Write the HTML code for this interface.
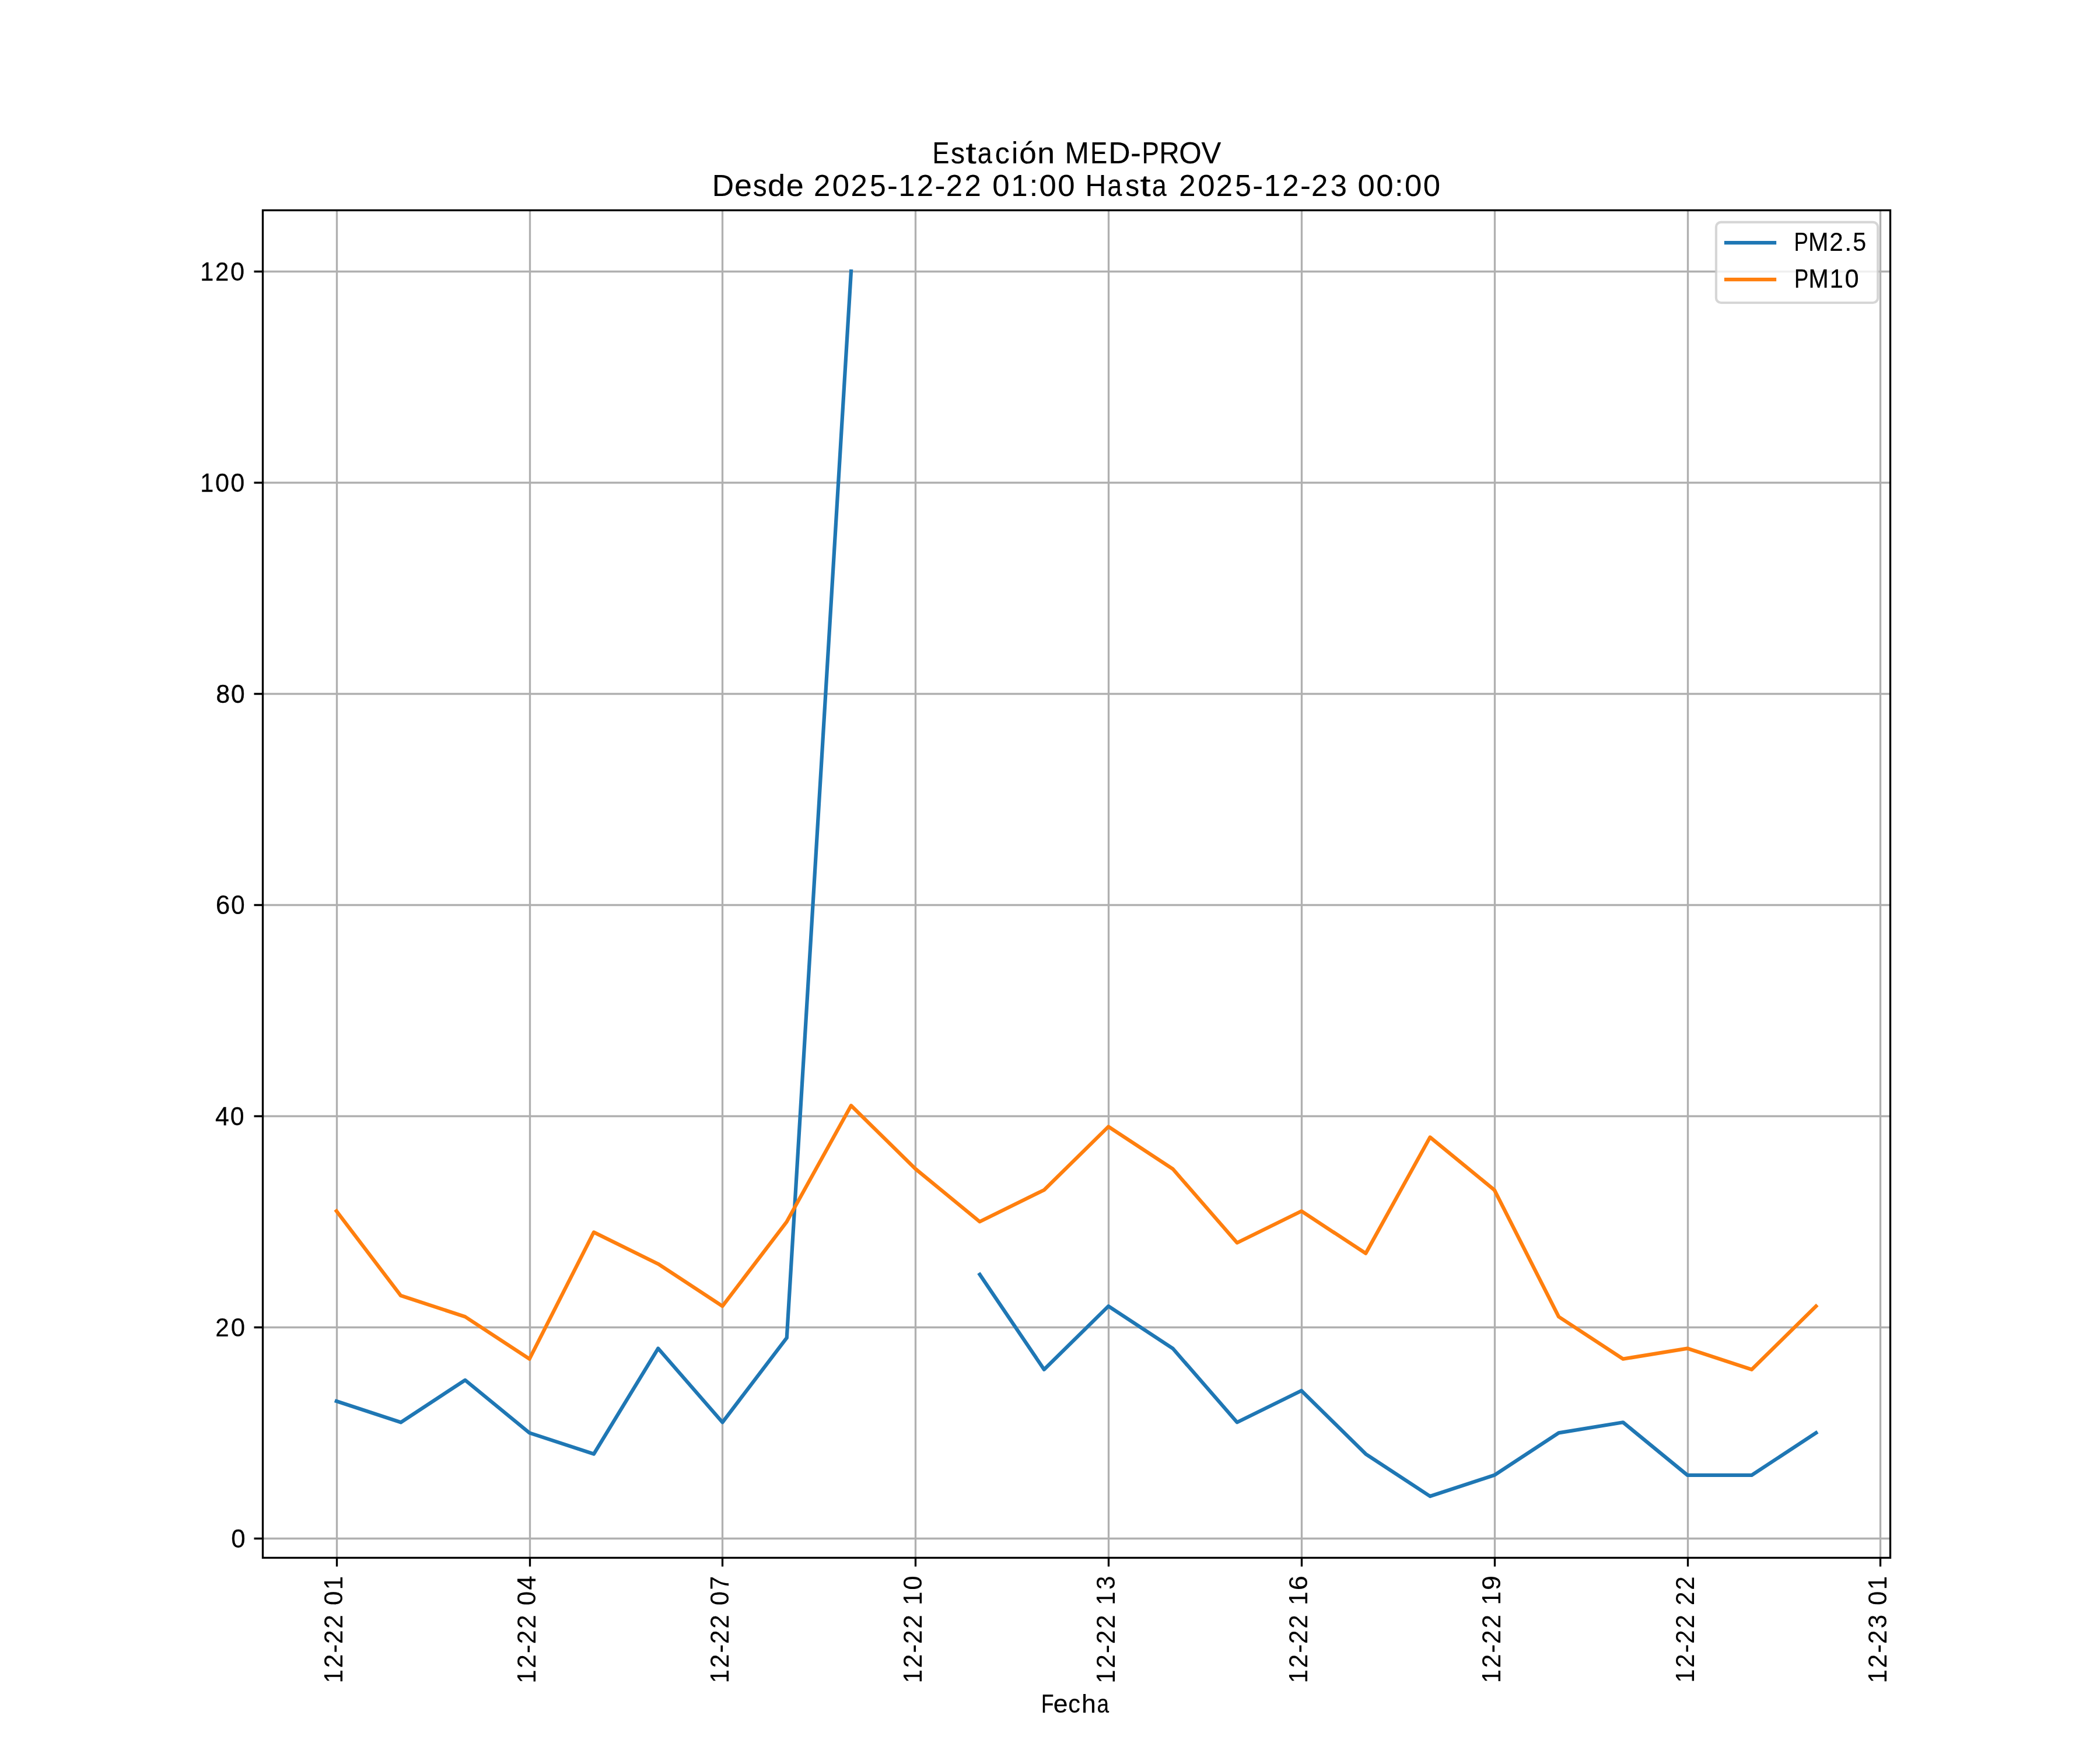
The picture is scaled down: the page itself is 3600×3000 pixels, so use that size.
<!DOCTYPE html><html><head><meta charset="utf-8"><title>Estación MED-PROV</title><style>html,body{margin:0;padding:0;background:#fff;}svg{display:block;will-change:transform;}text{font-family:"Liberation Sans",sans-serif;fill:#000;}</style></head><body>
<svg width="3600" height="3000" viewBox="0 0 3600 3000">
<rect x="0" y="0" width="3600" height="3000" fill="#fff"/>
<defs><clipPath id="ax"><rect x="450" y="360" width="2790" height="2310"/></clipPath></defs>
<path clip-path="url(#ax)" d="M577.5 360V2670M908.5 360V2670M1238.5 360V2670M1569.5 360V2670M1900.5 360V2670M2231.5 360V2670M2562.5 360V2670M2893.5 360V2670M3223.5 360V2670M450 2637.5H3240M450 2275.5H3240M450 1913.5H3240M450 1551.5H3240M450 1189.5H3240M450 827.5H3240M450 465.5H3240" fill="none" stroke="#b0b0b0" stroke-width="3.3333" stroke-linecap="square"/>
<path d="M577.5 2670.5V2685.5M908.5 2670.5V2685.5M1238.5 2670.5V2685.5M1569.5 2670.5V2685.5M1900.5 2670.5V2685.5M2231.5 2670.5V2685.5M2562.5 2670.5V2685.5M2893.5 2670.5V2685.5M3223.5 2670.5V2685.5M435.5 2637.5H450.5M435.5 2275.5H450.5M435.5 1913.5H450.5M435.5 1551.5H450.5M435.5 1189.5H450.5M435.5 827.5H450.5M435.5 465.5H450.5" fill="none" stroke="#000" stroke-width="3.3333"/>
<path clip-path="url(#ax)" d="M576.82 2402.07 L687.09 2438.28 L797.37 2365.86 L907.65 2456.38 L1017.92 2492.59 L1128.20 2311.55 L1238.48 2438.28 L1348.75 2293.45 L1459.03 465.00M1679.58 2184.83 L1789.86 2347.76 L1900.14 2239.14 L2010.42 2311.55 L2120.69 2438.28 L2230.97 2383.97 L2341.25 2492.59 L2451.52 2565.00 L2561.80 2528.79 L2672.08 2456.38 L2782.35 2438.28 L2892.63 2528.79 L3002.91 2528.79 L3113.18 2456.38" fill="none" stroke="#1f77b4" stroke-width="6.25" stroke-linejoin="round" stroke-linecap="square"/>
<path clip-path="url(#ax)" d="M576.82 2076.21 L687.09 2221.03 L797.37 2257.24 L907.65 2329.66 L1017.92 2112.41 L1128.20 2166.72 L1238.48 2239.14 L1348.75 2094.31 L1459.03 1895.17 L1569.31 2003.79 L1679.58 2094.31 L1789.86 2040.00 L1900.14 1931.38 L2010.42 2003.79 L2120.69 2130.52 L2230.97 2076.21 L2341.25 2148.62 L2451.52 1949.48 L2561.80 2040.00 L2672.08 2257.24 L2782.35 2329.66 L2892.63 2311.55 L3002.91 2347.76 L3113.18 2239.14" fill="none" stroke="#ff7f0e" stroke-width="6.25" stroke-linejoin="round" stroke-linecap="square"/>
<rect x="450.5" y="360.5" width="2790" height="2310" fill="none" stroke="#000" stroke-width="3.3333" stroke-linejoin="miter"/>
<rect x="2941.917" y="380.833" width="277.250" height="138.167" rx="8.333" ry="8.333" fill="rgba(255,255,255,0.8)" stroke="rgba(204,204,204,0.8)" stroke-width="4.1667"/>
<path d="M2959 416H3042" stroke="#1f77b4" stroke-width="6.25" stroke-linecap="square"/>
<path d="M2959 479H3042" stroke="#ff7f0e" stroke-width="6.25" stroke-linecap="square"/>
<g class="txt">
<text transform="translate(586.812 2885.297) rotate(-90) scale(1.00433 1.05585)" font-size="42.4" stroke="#000" stroke-width="0.143"><tspan x="0.11" textLength="23.17" lengthAdjust="spacingAndGlyphs">1</tspan><tspan x="25.97" textLength="23.38" lengthAdjust="spacingAndGlyphs">2</tspan><tspan x="51.29" textLength="14.85" lengthAdjust="spacingAndGlyphs">-</tspan><tspan x="67.06" textLength="23.38" lengthAdjust="spacingAndGlyphs">2</tspan><tspan x="93.25" textLength="23.38" lengthAdjust="spacingAndGlyphs">2</tspan> <tspan x="132.71" textLength="24.26" lengthAdjust="spacingAndGlyphs">0</tspan><tspan x="159.38" textLength="23.17" lengthAdjust="spacingAndGlyphs">1</tspan></text>
<text transform="translate(917.635 2886.313) rotate(-90) scale(1.01447 1.05585)" font-size="42.4" stroke="#000" stroke-width="0.112"><tspan x="0.61" textLength="23.00" lengthAdjust="spacingAndGlyphs">1</tspan><tspan x="26.28" textLength="23.21" lengthAdjust="spacingAndGlyphs">2</tspan><tspan x="51.41" textLength="14.75" lengthAdjust="spacingAndGlyphs">-</tspan><tspan x="67.07" textLength="23.21" lengthAdjust="spacingAndGlyphs">2</tspan><tspan x="93.08" textLength="23.21" lengthAdjust="spacingAndGlyphs">2</tspan> <tspan x="132.25" textLength="24.08" lengthAdjust="spacingAndGlyphs">0</tspan><tspan x="158.37" textLength="24.09" lengthAdjust="spacingAndGlyphs">4</tspan></text>
<text transform="translate(1248.526 2885.296) rotate(-90) scale(1.00623 1.03515)" font-size="42.4" stroke="#000" stroke-width="0.135"><tspan x="0.11" textLength="23.09" lengthAdjust="spacingAndGlyphs">1</tspan><tspan x="25.88" textLength="23.30" lengthAdjust="spacingAndGlyphs">2</tspan><tspan x="51.11" textLength="14.80" lengthAdjust="spacingAndGlyphs">-</tspan><tspan x="66.83" textLength="23.30" lengthAdjust="spacingAndGlyphs">2</tspan><tspan x="92.93" textLength="23.30" lengthAdjust="spacingAndGlyphs">2</tspan> <tspan x="132.26" textLength="24.17" lengthAdjust="spacingAndGlyphs">0</tspan><tspan x="158.66" textLength="23.65" lengthAdjust="spacingAndGlyphs">7</tspan></text>
<text transform="translate(1579.819 2885.295) rotate(-90) scale(1.00390 1.05627)" font-size="42.4" stroke="#000" stroke-width="0.144"><tspan x="0.11" textLength="23.17" lengthAdjust="spacingAndGlyphs">1</tspan><tspan x="25.97" textLength="23.38" lengthAdjust="spacingAndGlyphs">2</tspan><tspan x="51.29" textLength="14.85" lengthAdjust="spacingAndGlyphs">-</tspan><tspan x="67.06" textLength="23.38" lengthAdjust="spacingAndGlyphs">2</tspan><tspan x="93.25" textLength="23.38" lengthAdjust="spacingAndGlyphs">2</tspan> <tspan x="133.06" textLength="23.17" lengthAdjust="spacingAndGlyphs">1</tspan><tspan x="159.03" textLength="24.26" lengthAdjust="spacingAndGlyphs">0</tspan></text>
<text transform="translate(1910.643 2886.315) rotate(-90) scale(1.00045 1.05627)" font-size="42.4" stroke="#000" stroke-width="0.116"><tspan x="0.62" textLength="23.32" lengthAdjust="spacingAndGlyphs">1</tspan><tspan x="26.65" textLength="23.54" lengthAdjust="spacingAndGlyphs">2</tspan><tspan x="52.14" textLength="14.95" lengthAdjust="spacingAndGlyphs">-</tspan><tspan x="68.01" textLength="23.54" lengthAdjust="spacingAndGlyphs">2</tspan><tspan x="94.38" textLength="23.54" lengthAdjust="spacingAndGlyphs">2</tspan> <tspan x="134.46" textLength="23.32" lengthAdjust="spacingAndGlyphs">1</tspan><tspan x="161.13" textLength="23.45" lengthAdjust="spacingAndGlyphs">3</tspan></text>
<text transform="translate(2240.967 2885.315) rotate(-90) scale(1.00862 1.03515)" font-size="42.4" stroke="#000" stroke-width="0.135"><tspan x="0.13" textLength="23.04" lengthAdjust="spacingAndGlyphs">1</tspan><tspan x="25.85" textLength="23.26" lengthAdjust="spacingAndGlyphs">2</tspan><tspan x="51.03" textLength="14.77" lengthAdjust="spacingAndGlyphs">-</tspan><tspan x="66.72" textLength="23.26" lengthAdjust="spacingAndGlyphs">2</tspan><tspan x="92.77" textLength="23.26" lengthAdjust="spacingAndGlyphs">2</tspan> <tspan x="132.36" textLength="23.04" lengthAdjust="spacingAndGlyphs">1</tspan><tspan x="157.76" textLength="24.97" lengthAdjust="spacingAndGlyphs">6</tspan></text>
<text transform="translate(2571.791 2885.315) rotate(-90) scale(1.01000 1.05627)" font-size="42.4" stroke="#000" stroke-width="0.093"><tspan x="0.12" textLength="23.05" lengthAdjust="spacingAndGlyphs">1</tspan><tspan x="25.85" textLength="23.26" lengthAdjust="spacingAndGlyphs">2</tspan><tspan x="51.04" textLength="14.78" lengthAdjust="spacingAndGlyphs">-</tspan><tspan x="66.73" textLength="23.26" lengthAdjust="spacingAndGlyphs">2</tspan><tspan x="92.79" textLength="23.26" lengthAdjust="spacingAndGlyphs">2</tspan> <tspan x="132.40" textLength="23.05" lengthAdjust="spacingAndGlyphs">1</tspan><tspan x="157.70" textLength="24.93" lengthAdjust="spacingAndGlyphs">9</tspan></text>
<text transform="translate(2903.615 2884.278) rotate(-90) scale(0.99651 1.03515)" font-size="42.4" stroke="#000" stroke-width="0.103"><tspan x="-0.40" textLength="23.28" lengthAdjust="spacingAndGlyphs">1</tspan><tspan x="25.58" textLength="23.49" lengthAdjust="spacingAndGlyphs">2</tspan><tspan x="51.02" textLength="14.92" lengthAdjust="spacingAndGlyphs">-</tspan><tspan x="66.87" textLength="23.49" lengthAdjust="spacingAndGlyphs">2</tspan><tspan x="93.18" textLength="23.49" lengthAdjust="spacingAndGlyphs">2</tspan> <tspan x="132.72" textLength="23.49" lengthAdjust="spacingAndGlyphs">2</tspan><tspan x="159.04" textLength="23.49" lengthAdjust="spacingAndGlyphs">2</tspan></text>
<text transform="translate(3233.974 2885.297) rotate(-90) scale(1.00229 1.05627)" font-size="42.4" stroke="#000" stroke-width="0.147"><tspan x="0.11" textLength="23.18" lengthAdjust="spacingAndGlyphs">1</tspan><tspan x="25.99" textLength="23.40" lengthAdjust="spacingAndGlyphs">2</tspan><tspan x="51.32" textLength="14.86" lengthAdjust="spacingAndGlyphs">-</tspan><tspan x="67.11" textLength="23.40" lengthAdjust="spacingAndGlyphs">2</tspan><tspan x="93.96" textLength="23.31" lengthAdjust="spacingAndGlyphs">3</tspan> <tspan x="133.05" textLength="24.27" lengthAdjust="spacingAndGlyphs">0</tspan><tspan x="159.73" textLength="23.18" lengthAdjust="spacingAndGlyphs">1</tspan></text>
<text transform="translate(396.250 2652.911) scale(1.03610 1.03556)" font-size="42.4" stroke="#000" stroke-width="0.262"><tspan x="0.03" textLength="23.58" lengthAdjust="spacingAndGlyphs">0</tspan></text>
<text transform="translate(369.268 2290.839) scale(1.01623 1.05585)" font-size="42.4" stroke="#000" stroke-width="0.227"><tspan x="0.10" textLength="23.14" lengthAdjust="spacingAndGlyphs">2</tspan><tspan x="26.13" textLength="24.00" lengthAdjust="spacingAndGlyphs">0</tspan></text>
<text transform="translate(368.753 1928.768) scale(1.01001 1.05627)" font-size="42.4" stroke="#000" stroke-width="0.268"><tspan x="0.26" textLength="23.58" lengthAdjust="spacingAndGlyphs">4</tspan><tspan x="25.85" textLength="23.58" lengthAdjust="spacingAndGlyphs">0</tspan></text>
<text transform="translate(369.682 1566.697) scale(1.02402 1.09894)" font-size="42.4" stroke="#000" stroke-width="0.160"><tspan x="0.07" textLength="23.99" lengthAdjust="spacingAndGlyphs">6</tspan><tspan x="25.63" textLength="23.18" lengthAdjust="spacingAndGlyphs">0</tspan></text>
<text transform="translate(369.548 1204.625) scale(1.00773 1.05627)" font-size="42.4" stroke="#000" stroke-width="0.402"><tspan x="0.58" textLength="23.71" lengthAdjust="spacingAndGlyphs">8</tspan><tspan x="26.27" textLength="23.45" lengthAdjust="spacingAndGlyphs">0</tspan></text>
<text transform="translate(341.995 842.554) scale(1.00495 1.05585)" font-size="42.4" stroke="#000" stroke-width="0.270"><tspan x="1.35" textLength="22.84" lengthAdjust="spacingAndGlyphs">1</tspan><tspan x="26.95" textLength="23.91" lengthAdjust="spacingAndGlyphs">0</tspan><tspan x="52.90" textLength="23.91" lengthAdjust="spacingAndGlyphs">0</tspan></text>
<text transform="translate(342.131 480.951) scale(0.99416 1.03556)" font-size="42.4" stroke="#000" stroke-width="0.262"><tspan x="1.23" textLength="23.13" lengthAdjust="spacingAndGlyphs">1</tspan><tspan x="27.04" textLength="23.34" lengthAdjust="spacingAndGlyphs">2</tspan><tspan x="53.30" textLength="24.22" lengthAdjust="spacingAndGlyphs">0</tspan></text>
<text transform="translate(1597.065 279.500) scale(1.16206 1.20129)" font-size="42.4" stroke="#000" stroke-width="0.158"><tspan x="1.19" textLength="24.87" lengthAdjust="spacingAndGlyphs">E</tspan><tspan x="28.42" textLength="20.62" lengthAdjust="spacingAndGlyphs">s</tspan><tspan x="49.99" textLength="15.97" lengthAdjust="spacingAndGlyphs">t</tspan><tspan x="67.64" textLength="21.51" lengthAdjust="spacingAndGlyphs">a</tspan><tspan x="93.59" textLength="21.58" lengthAdjust="spacingAndGlyphs">c</tspan><tspan x="117.82" textLength="9.77" lengthAdjust="spacingAndGlyphs">i</tspan><tspan x="129.20" textLength="25.43" lengthAdjust="spacingAndGlyphs">ó</tspan><tspan x="155.92" textLength="25.79" lengthAdjust="spacingAndGlyphs">n</tspan> <tspan x="196.66" textLength="35.73" lengthAdjust="spacingAndGlyphs">M</tspan><tspan x="234.23" textLength="24.87" lengthAdjust="spacingAndGlyphs">E</tspan><tspan x="260.84" textLength="32.14" lengthAdjust="spacingAndGlyphs">D</tspan><tspan x="293.43" textLength="15.44" lengthAdjust="spacingAndGlyphs">-</tspan><tspan x="310.09" textLength="25.37" lengthAdjust="spacingAndGlyphs">P</tspan><tspan x="335.75" textLength="29.71" lengthAdjust="spacingAndGlyphs">R</tspan><tspan x="365.09" textLength="33.08" lengthAdjust="spacingAndGlyphs">O</tspan><tspan x="397.85" textLength="29.12" lengthAdjust="spacingAndGlyphs">V</tspan></text>
<text transform="translate(1220.673 335.500) scale(1.21252 1.20129)" font-size="42.4" stroke="#000" stroke-width="0.102"><tspan x="0.07" textLength="30.81" lengthAdjust="spacingAndGlyphs">D</tspan><tspan x="31.66" textLength="24.77" lengthAdjust="spacingAndGlyphs">e</tspan><tspan x="57.77" textLength="19.76" lengthAdjust="spacingAndGlyphs">s</tspan><tspan x="78.58" textLength="24.93" lengthAdjust="spacingAndGlyphs">d</tspan><tspan x="104.75" textLength="24.77" lengthAdjust="spacingAndGlyphs">e</tspan> <tspan x="143.74" textLength="23.30" lengthAdjust="spacingAndGlyphs">2</tspan><tspan x="170.03" textLength="24.18" lengthAdjust="spacingAndGlyphs">0</tspan><tspan x="196.11" textLength="23.30" lengthAdjust="spacingAndGlyphs">2</tspan><tspan x="222.92" textLength="22.82" lengthAdjust="spacingAndGlyphs">5</tspan><tspan x="247.61" textLength="14.80" lengthAdjust="spacingAndGlyphs">-</tspan><tspan x="263.88" textLength="23.09" lengthAdjust="spacingAndGlyphs">1</tspan><tspan x="289.61" textLength="23.30" lengthAdjust="spacingAndGlyphs">2</tspan><tspan x="314.93" textLength="14.80" lengthAdjust="spacingAndGlyphs">-</tspan><tspan x="330.75" textLength="23.30" lengthAdjust="spacingAndGlyphs">2</tspan><tspan x="356.94" textLength="23.30" lengthAdjust="spacingAndGlyphs">2</tspan> <tspan x="396.32" textLength="24.18" lengthAdjust="spacingAndGlyphs">0</tspan><tspan x="422.86" textLength="23.09" lengthAdjust="spacingAndGlyphs">1</tspan><tspan x="448.43" textLength="12.40" lengthAdjust="spacingAndGlyphs">:</tspan><tspan x="462.61" textLength="24.18" lengthAdjust="spacingAndGlyphs">0</tspan><tspan x="488.80" textLength="24.18" lengthAdjust="spacingAndGlyphs">0</tspan> <tspan x="527.74" textLength="29.62" lengthAdjust="spacingAndGlyphs">H</tspan><tspan x="558.89" textLength="20.62" lengthAdjust="spacingAndGlyphs">a</tspan><tspan x="584.38" textLength="19.76" lengthAdjust="spacingAndGlyphs">s</tspan><tspan x="605.06" textLength="15.31" lengthAdjust="spacingAndGlyphs">t</tspan><tspan x="621.98" textLength="20.62" lengthAdjust="spacingAndGlyphs">a</tspan> <tspan x="660.34" textLength="23.30" lengthAdjust="spacingAndGlyphs">2</tspan><tspan x="686.64" textLength="24.18" lengthAdjust="spacingAndGlyphs">0</tspan><tspan x="712.71" textLength="23.30" lengthAdjust="spacingAndGlyphs">2</tspan><tspan x="739.53" textLength="22.82" lengthAdjust="spacingAndGlyphs">5</tspan><tspan x="764.21" textLength="14.80" lengthAdjust="spacingAndGlyphs">-</tspan><tspan x="780.49" textLength="23.09" lengthAdjust="spacingAndGlyphs">1</tspan><tspan x="806.22" textLength="23.30" lengthAdjust="spacingAndGlyphs">2</tspan><tspan x="831.53" textLength="14.80" lengthAdjust="spacingAndGlyphs">-</tspan><tspan x="847.36" textLength="23.30" lengthAdjust="spacingAndGlyphs">2</tspan><tspan x="874.18" textLength="23.22" lengthAdjust="spacingAndGlyphs">3</tspan> <tspan x="912.93" textLength="24.18" lengthAdjust="spacingAndGlyphs">0</tspan><tspan x="939.11" textLength="24.18" lengthAdjust="spacingAndGlyphs">0</tspan><tspan x="965.04" textLength="12.40" lengthAdjust="spacingAndGlyphs">:</tspan><tspan x="979.22" textLength="24.18" lengthAdjust="spacingAndGlyphs">0</tspan><tspan x="1005.40" textLength="24.18" lengthAdjust="spacingAndGlyphs">0</tspan></text>
<text transform="translate(1784.526 2935.500) scale(0.95227 1.04102)" font-size="42.4" stroke="#000" stroke-width="0.159"><tspan x="0.61" textLength="22.65" lengthAdjust="spacingAndGlyphs">F</tspan><tspan x="22.39" textLength="25.99" lengthAdjust="spacingAndGlyphs">e</tspan><tspan x="49.14" textLength="21.71" lengthAdjust="spacingAndGlyphs">c</tspan><tspan x="73.02" textLength="26.12" lengthAdjust="spacingAndGlyphs">h</tspan><tspan x="100.68" textLength="21.64" lengthAdjust="spacingAndGlyphs">a</tspan></text>
<text transform="translate(3074.463 429.826) scale(0.95604 1.04839)" font-size="42.4" stroke="#000" stroke-width="0.173"><tspan x="1.07" textLength="25.60" lengthAdjust="spacingAndGlyphs">P</tspan><tspan x="26.84" textLength="36.04" lengthAdjust="spacingAndGlyphs">M</tspan><tspan x="64.58" textLength="24.52" lengthAdjust="spacingAndGlyphs">2</tspan><tspan x="91.44" textLength="13.04" lengthAdjust="spacingAndGlyphs">.</tspan><tspan x="106.50" textLength="24.01" lengthAdjust="spacingAndGlyphs">5</tspan></text>
<text transform="translate(3074.964 492.500) scale(0.95504 1.06157)" font-size="42.4" stroke="#000" stroke-width="0.270"><tspan x="1.10" textLength="25.43" lengthAdjust="spacingAndGlyphs">P</tspan><tspan x="26.69" textLength="35.80" lengthAdjust="spacingAndGlyphs">M</tspan><tspan x="64.66" textLength="24.14" lengthAdjust="spacingAndGlyphs">1</tspan><tspan x="91.72" textLength="25.27" lengthAdjust="spacingAndGlyphs">0</tspan></text>
</g>
</svg></body></html>
